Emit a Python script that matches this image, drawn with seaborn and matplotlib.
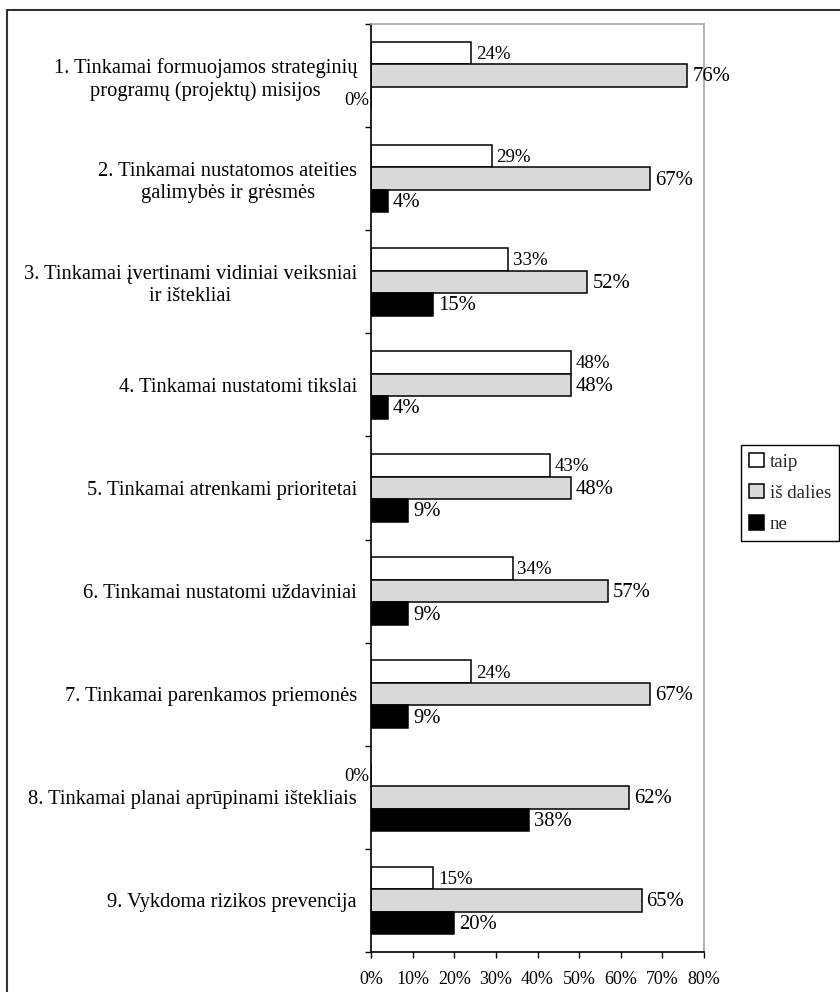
import numpy as np
import pandas as pd
import matplotlib.pyplot as plt
import seaborn as sns
from matplotlib.lines import Line2D

categories = [
    '1. Tinkamai formuojamos strateginių\nprogramų (projektų) misijos',
    '2. Tinkamai nustatomos ateities\ngalimybės ir grėsmės',
    '3. Tinkamai įvertinami vidiniai veiksniai\nir ištekliai',
    '4. Tinkamai nustatomi tikslai',
    '5. Tinkamai atrenkami prioritetai',
    '6. Tinkamai nustatomi uždaviniai',
    '7. Tinkamai parenkamos priemonės',
    '8. Tinkamai planai aprūpinami ištekliais',
    '9. Vykdoma rizikos prevencija',
]
series = ['taip', 'iš dalies', 'ne']
taip = [24, 29, 33, 48, 43, 34, 24, 0, 15]
is_dalies = [76, 67, 52, 48, 48, 57, 67, 62, 65]
ne = [0, 4, 15, 4, 9, 9, 9, 38, 20]
colors = ['white', '#d9d9d9', 'black']
label_sizes = [13.6, 14.9, 14.9]
x_ticks = [0, 10, 20, 30, 40, 50, 60, 70, 80]


def build_frame():
    rows = []
    for name, values in zip(series, [taip, is_dalies, ne]):
        for cat, v in zip(categories, values):
            rows.append({'kategorija': cat, 'reiksme': v, 'atsakymas': name})
    return pd.DataFrame(rows)


sns.set_theme(style='white')
plt.rcParams['font.family'] = ['Liberation Serif', 'DejaVu Serif']
plt.rcParams['font.size'] = 13

df = build_frame()

fig = plt.figure(figsize=(8.4, 9.92), dpi=100)
ax = fig.add_axes([371 / 840, 1 - 952 / 992, 333 / 840, 928 / 992])

sns.barplot(data=df, y='kategorija', x='reiksme', hue='atsakymas', orient='h',
            hue_order=series, palette=colors, saturation=1, width=0.655,
            errorbar=None, edgecolor='black', linewidth=1.1, ax=ax)

# data labels (zero values sit left of the axis, like in the original)
for cont, fs in zip(ax.containers, label_sizes):
    for bar in cont:
        w = bar.get_width()
        yc = bar.get_y() + bar.get_height() / 2
        if w > 0:
            ax.annotate(f'{int(round(w))}%', (w, yc), xytext=(3.5, -1),
                        textcoords='offset points', ha='left', va='center',
                        fontsize=fs, color='black')
        else:
            ax.annotate('0%', (0, yc), xytext=(-1, -1.5),
                        textcoords='offset points', ha='right', va='center',
                        fontsize=13.5, color='black', annotation_clip=False)

ax.set_xlim(0, 80)
ax.set_ylim(8.5, -0.5)
ax.set_xticks(x_ticks)
ax.set_xticklabels([f'{t}%' for t in x_ticks])
ax.set_xlabel('')
ax.set_ylabel('')
ax.tick_params(axis='x', direction='out', length=4.5, width=1, color='black',
               pad=9, labelsize=13, bottom=True)
ax.tick_params(axis='y', which='major', length=0, pad=10, labelsize=14.8, left=False)
ax.set_yticks(np.arange(-0.5, 9, 1), minor=True)
ax.tick_params(axis='y', which='minor', direction='out', length=4, width=1,
               color='black', left=True)
plt.setp(ax.get_yticklabels(), multialignment='center', color='black')
plt.setp(ax.get_xticklabels(), color='black')

for side in ['left', 'bottom']:
    ax.spines[side].set_color('black')
    ax.spines[side].set_linewidth(1.2)
for side in ['top', 'right']:
    ax.spines[side].set_color('#a6a6a6')
    ax.spines[side].set_linewidth(1.2)

handles, labels = ax.get_legend_handles_labels()
ax.legend_.remove()
leg = fig.legend(handles, labels, loc='upper left',
                 bbox_to_anchor=(741 / 840, 1 - 445 / 992),
                 bbox_transform=fig.transFigure, frameon=True, fancybox=False,
                 framealpha=1, edgecolor='black', fontsize=13.7,
                 handlelength=0.8, handleheight=0.8, handletextpad=0.3,
                 labelspacing=0.7, borderpad=0.4, borderaxespad=0)
leg.get_frame().set_linewidth(1)

# outer chart border (top and left edges visible)
fig.add_artist(Line2D([7 / 840, 1.0], [1 - 10 / 992, 1 - 10 / 992],
                      transform=fig.transFigure, color='#333333', lw=1.5))
fig.add_artist(Line2D([7 / 840, 7 / 840], [0.0, 1 - 10 / 992],
                      transform=fig.transFigure, color='#333333', lw=1.5))

fig.savefig('out.png', dpi=100, facecolor='white')
